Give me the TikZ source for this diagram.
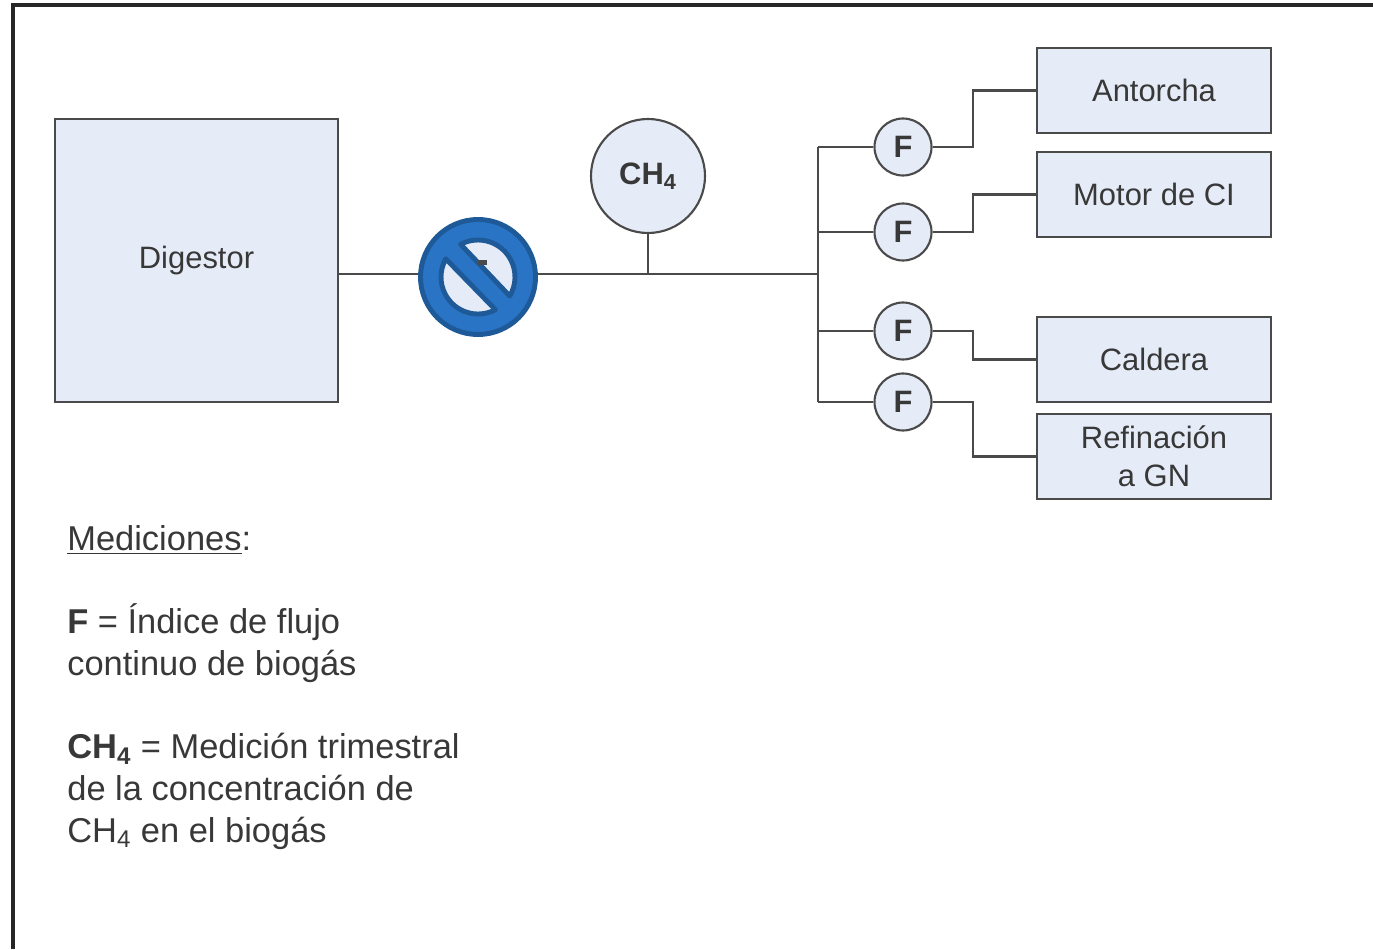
\documentclass[tikz,border=0pt]{standalone}
\usepackage{fontspec}
\setmainfont{Liberation Sans}
\usetikzlibrary{positioning}
\definecolor{boxfill}{HTML}{E6ECF7}
\definecolor{boxline}{HTML}{4A4A4A}
\definecolor{signblue}{HTML}{2A74C6}
\definecolor{signline}{HTML}{1F5A98}

\begin{document}
\begin{tikzpicture}[
		every node/.style={text=black!78,font=\fontsize{17.6}{21.5}\selectfont},
		wire/.style={draw=boxline,line width=1.5pt},
		unit/.style={draw=boxline,line width=1.5pt,fill=boxfill,align=center,minimum width=4.68cm,minimum height=1.7cm,inner sep=0pt},
		meter/.style={draw=boxline,line width=1.2pt,fill=boxfill,circle,minimum size=1.14cm,inner sep=0pt,font=\fontsize{17.6}{21.5}\selectfont\bfseries},
		hole/.style={draw=signline,fill=boxfill,line width=2.8pt,line join=round}
	]
		\useasboundingbox (0,0) rectangle (27.46,18.98);
		\draw[line width=2pt,black!85] (0.26,0) -- (0.26,18.88) -- (27.46,18.88);

		\coordinate (bus) at (16.36,13.5);
		\coordinate (elbow) at (19.46,13.5);

		\node[unit,minimum width=5.66cm,minimum height=5.66cm] (digestor) at (3.93,13.77) {Digestor};
		\node[meter,minimum size=2.28cm] (ch4) at (12.96,15.46) {CH\textsubscript{4}};
		\node[circle,draw=signline,fill=signblue,line width=2.8pt,minimum size=2.3cm,inner sep=0pt] (nosign) at (9.56,13.44) {};

		\node[meter] (f1) at (18.06,16.04) {F};
		\node[meter] (f2) at (18.06,14.34) {F};
		\node[meter] (f3) at (18.06,12.36) {F};
		\node[meter] (f4) at (18.06,10.94) {F};

		\node[unit] (antorcha) at (23.08,17.17) {Antorcha};
		\node[unit] (motor) at (23.08,15.09) {Motor de CI};
		\node[unit] (caldera) at (23.08,11.79) {Caldera};
		\node[unit] (refinacion) at (23.08,9.85) {Refinación\\a GN};

		\draw[wire] (digestor.east |- bus) -- (nosign.west |- bus);
		\draw[wire] (nosign.east |- bus) -- (bus);
		\draw[wire] (ch4.south) -- (ch4.south |- bus);
		\draw[wire] (f1.west -| bus) -- (f4.west -| bus);

		\foreach \f/\b in {f1/antorcha,f2/motor,f3/caldera,f4/refinacion} {
			\draw[wire] (\f.west -| bus) -- (\f.west);
			\draw[wire] (\f.east) -- (\f.east -| elbow) -- (elbow |- \b.west) -- (\b.west);
		}

		% the two openings of the sign
		\draw[hole] (nosign.center) ++(118:0.74) arc (118:-31:0.74) -- cycle;
		\draw[hole] (nosign.center) ++(-62:0.74) arc (-62:-209.4:0.74) -- cycle;
		\fill[boxline] (9.56,13.68) rectangle (9.74,13.78);

		\node[anchor=west,align=left,inner sep=0pt,font=\fontsize{19.6}{23.7}\selectfont] (notes) at (1.34,5.23) {\underline{Mediciones}:\\[23.7pt]
			\textbf{F} = Índice de flujo\\
			continuo de biogás\\[23.7pt]
			\textbf{CH\textsubscript{4}} = Medición trimestral\\
			de la concentración de\\
			CH\textsubscript{4} en el biogás};
	\end{tikzpicture}
\end{document}
